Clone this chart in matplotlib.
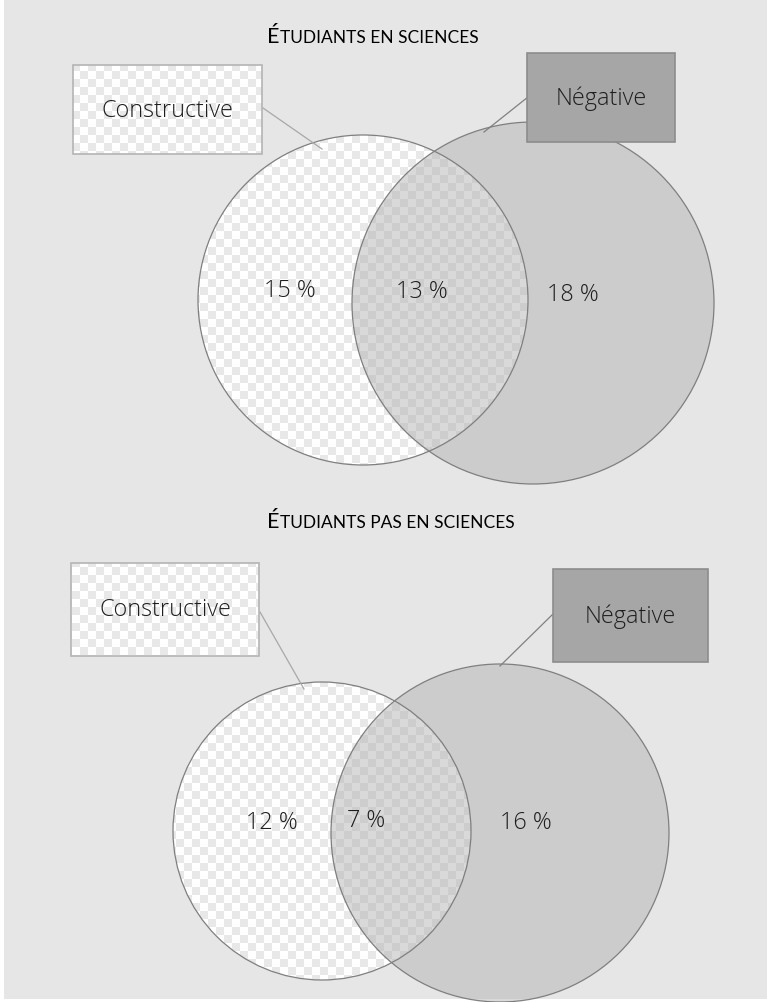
import numpy as np
import matplotlib
matplotlib.use("Agg")
import matplotlib.pyplot as plt
from matplotlib.patches import Circle, Rectangle
from matplotlib.colors import ListedColormap
from matplotlib.offsetbox import TextArea, HPacker, AnnotationBbox

# ---- data -------------------------------------------------------------
groups = ["Étudiants en sciences", "Étudiants pas en sciences"]
set_names = ["Constructive", "Négative"]
constructive_only = [15, 12]
both = [13, 7]
negative_only = [18, 16]

# ---- layout (pixel space, y grows downward) -------------------------------
panels = [
    dict(title_xy=(267, 37),
         c_circle=(363, 301, 165), n_circle=(533, 304, 181),
         c_box=(73, 66, 189, 89), n_box=(527, 54, 148, 89),
         c_lead=((263, 109), (322, 150)), n_lead=((528, 98), (484, 133)),
         c_lab=(290, 291), b_lab=(422, 292), n_lab=(573, 295)),
    dict(title_xy=(267, 522),
         c_circle=(322, 832, 149), n_circle=(500, 834, 169),
         c_box=(71, 564, 188, 93), n_box=(553, 570, 155, 93),
         c_lead=((260, 613), (304, 690)), n_lead=((553, 615), (500, 667)),
         c_lab=(272, 823), b_lab=(366, 821), n_lab=(526, 823)),
]

W, H = 767, 1003
BG = "#e6e6e6"
EDGE = "#7f7f7f"
TXT = "#1e1e1e"
TITLE_FONT = ["Lato", "DejaVu Sans"]
LABEL_FONT = ["Open Sans", "DejaVu Sans"]

fig = plt.figure(figsize=(W / 100, H / 100), dpi=100, facecolor="white")
ax = fig.add_axes([0, 0, 1, 1])
ax.axis("off")

ax.add_patch(Rectangle((4, 0), W - 4, 1000, facecolor=BG, edgecolor="none", zorder=0))

# checkerboard texture used for the "Constructive" fill
yy, xx = np.mgrid[0:H, 0:W]
cells = ((xx // 8 + yy // 8) % 2).astype(float)
checker_cmap = ListedColormap(["#ffffff", "#e8e8e8"])


def checker(clip_patch, z):
    ax.add_patch(clip_patch)
    im = ax.imshow(cells, cmap=checker_cmap, vmin=0, vmax=1, extent=(0, W, H, 0),
                   origin="upper", interpolation="nearest", zorder=z)
    im.set_clip_path(clip_patch)


def label(x, y, s, size=16.8):
    ax.text(x, y, s, ha="center", va="center", fontsize=size, color=TXT,
            family=LABEL_FONT, fontweight="light", zorder=10)


def pct(v):
    return f"{v} %"


for i, p in enumerate(panels):
    # small-caps title
    head, rest = groups[i][0].upper(), groups[i][1:].upper()
    t1 = TextArea(head, textprops=dict(fontsize=15.5, family=TITLE_FONT, color="black"))
    t2 = TextArea(rest, textprops=dict(fontsize=12.5, family=TITLE_FONT, color="black"))
    pack = HPacker(children=[t1, t2], align="baseline", pad=0, sep=0)
    ab = AnnotationBbox(pack, p["title_xy"], xycoords="data", box_alignment=(0, 0.5),
                        frameon=False, pad=0)
    ax.add_artist(ab)

    # Constructive circle (checker) and Négative circle (translucent grey)
    cx, cy, cr = p["c_circle"]
    nx, ny, nr = p["n_circle"]
    checker(Circle((cx, cy), cr, facecolor="none", edgecolor="none"), 2)
    ax.add_patch(Circle((nx, ny), nr, facecolor="#b0b0b0", alpha=0.48,
                        edgecolor="none", zorder=3))
    ax.add_patch(Circle((cx, cy), cr, facecolor="none", edgecolor=EDGE, lw=0.9, zorder=4))
    ax.add_patch(Circle((nx, ny), nr, facecolor="none", edgecolor=EDGE, lw=0.9, zorder=4))

    # leader lines
    (a, b), (c, d) = p["c_lead"]
    ax.plot([a, c], [b, d], color="#a8a8a8", lw=0.9, zorder=5)
    (a, b), (c, d) = p["n_lead"]
    ax.plot([a, c], [b, d], color="#808080", lw=0.9, zorder=5)

    # callout boxes
    bx, by, bw, bh = p["c_box"]
    checker(Rectangle((bx, by), bw, bh, facecolor="none", edgecolor="none"), 6)
    ax.add_patch(Rectangle((bx, by), bw, bh, facecolor="none", edgecolor="#b4b4b4",
                           lw=1.2, zorder=7))
    label(bx + bw / 2, by + bh / 2, set_names[0])
    bx, by, bw, bh = p["n_box"]
    ax.add_patch(Rectangle((bx, by), bw, bh, facecolor="#a6a6a6", edgecolor="#8c8c8c",
                           lw=1.2, zorder=7))
    label(bx + bw / 2, by + bh / 2, set_names[1])

    # region percentages
    label(*p["c_lab"], pct(constructive_only[i]))
    label(*p["b_lab"], pct(both[i]))
    label(*p["n_lab"], pct(negative_only[i]))

ax.set_aspect("auto")
ax.set_xlim(0, W)
ax.set_ylim(H, 0)

fig.savefig("out.png", dpi=100, facecolor="white")
